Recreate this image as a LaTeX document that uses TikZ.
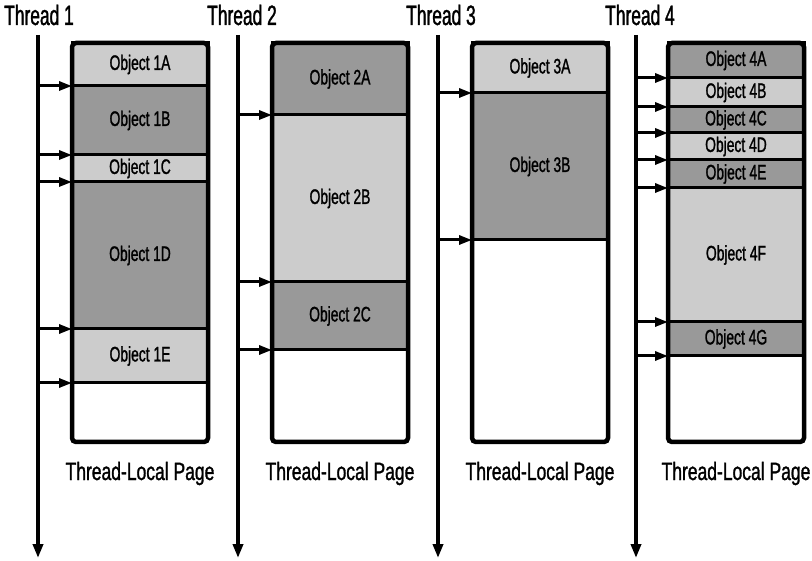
\documentclass[tikz,border=0pt]{standalone}
\usepackage{fontspec}
\setmainfont{Liberation Sans}[FakeStretch=0.7,FakeBold=1.2]
\newfontfamily\objfont{Liberation Sans}[FakeStretch=0.66,FakeBold=1.2]
\newfontfamily\thrfont{Liberation Sans}[FakeStretch=0.62,FakeBold=1.2]
\newfontfamily\pagefont{Liberation Sans}[FakeStretch=0.7,FakeBold=1.2]
\usetikzlibrary{arrows.meta}
\definecolor{lightobj}{HTML}{CCCCCC}
\definecolor{darkobj}{HTML}{999999}
\begin{document}
\begin{tikzpicture}[x=1pt,y=-1pt,
 obj/.style={draw=black,line width=3pt,minimum width=136pt,inner sep=0pt,outer sep=0pt,anchor=north west,font=\objfont\fontsize{21}{22}\selectfont},
 lo/.style={obj,fill=lightobj},
 dk/.style={obj,fill=darkobj},
 page/.style={draw=black,line width=4.5pt,rounded corners=4pt,minimum width=136pt,minimum height=399pt,inner sep=0pt,outer sep=0pt,anchor=north west},
 thr/.style={line width=3.5pt,-{Triangle[length=14pt,width=10pt]}},
 ptr/.style={line width=3pt,-{Triangle[length=13pt,width=9pt]}},
 tlabel/.style={font=\thrfont\fontsize{28}{30}\selectfont,inner sep=0pt,anchor=base},
 plabel/.style={font=\pagefont\fontsize{25}{27}\selectfont,inner sep=0pt,anchor=base}]
\useasboundingbox (0,0) rectangle (812,561);
% thread labels
\node[tlabel] (th1) at (39,25) {Thread 1};
\node[tlabel] (th2) at (242,25) {Thread 2};
\node[tlabel] (th3) at (441,25) {Thread 3};
\node[tlabel] (th4) at (640,25) {Thread 4};
% thread lines
\coordinate (t1top) at (38,35); \coordinate (t1bot) at (38,558);
\coordinate (t2top) at (238,35); \coordinate (t2bot) at (238,558);
\coordinate (t3top) at (438,35); \coordinate (t3bot) at (438,558);
\coordinate (t4top) at (636,35); \coordinate (t4bot) at (636,558);
\draw[thr] (t1top) -- (t1bot);
\draw[thr] (t2top) -- (t2bot);
\draw[thr] (t3top) -- (t3bot);
\draw[thr] (t4top) -- (t4bot);
% page 1
\node[lo,minimum height=43pt] (o1A) at (72,43) {Object 1A};
\node[dk,minimum height=69pt] (o1B) at (72,86) {Object 1B};
\node[lo,minimum height=27pt] (o1C) at (72,155) {Object 1C};
\node[dk,minimum height=147pt] (o1D) at (72,182) {Object 1D};
\node[lo,minimum height=54pt] (o1E) at (72,329) {Object 1E};
\node[page] (page1) at (72,43) {};
% page 2
\node[dk,minimum height=72pt] (o2A) at (272,43) {Object 2A};
\node[lo,minimum height=167pt] (o2B) at (272,115) {Object 2B};
\node[dk,minimum height=68pt] (o2C) at (272,282) {Object 2C};
\node[page] (page2) at (272,43) {};
% page 3
\node[lo,minimum height=50pt] (o3A) at (472,43) {Object 3A};
\node[dk,minimum height=147pt] (o3B) at (472,93) {Object 3B};
\node[page] (page3) at (472,43) {};
% page 4
\node[dk,minimum height=35pt] (o4A) at (668,43) {Object 4A};
\node[lo,minimum height=29pt] (o4B) at (668,78) {Object 4B};
\node[dk,minimum height=26pt] (o4C) at (668,107) {Object 4C};
\node[lo,minimum height=27pt] (o4D) at (668,133) {Object 4D};
\node[dk,minimum height=28pt] (o4E) at (668,160) {Object 4E};
\node[lo,minimum height=134pt] (o4F) at (668,188) {Object 4F};
\node[dk,minimum height=34pt] (o4G) at (668,322) {Object 4G};
\node[page] (page4) at (668,43) {};
% page labels
\node[plabel] (pl1) at (page1.south |- 0,480) {Thread-Local Page};
\node[plabel] (pl2) at (page2.south |- 0,480) {Thread-Local Page};
\node[plabel] (pl3) at (page3.south |- 0,480) {Thread-Local Page};
\node[plabel] (pl4) at (page4.south |- 0,480) {Thread-Local Page};
% pointers
\foreach \a in {o1B.north west,o1C.north west,o1D.north west,o1E.north west,o1E.south west}
  \draw[ptr] (t1top |- \a) -- (\a);
\foreach \a in {o2B.north west,o2C.north west,o2C.south west}
  \draw[ptr] (t2top |- \a) -- (\a);
\foreach \a in {o3B.north west,o3B.south west}
  \draw[ptr] (t3top |- \a) -- (\a);
\foreach \a in {o4B.north west,o4C.north west,o4D.north west,o4E.north west,o4F.north west,o4G.north west,o4G.south west}
  \draw[ptr] (t4top |- \a) -- (\a);
\end{tikzpicture}
\end{document}
